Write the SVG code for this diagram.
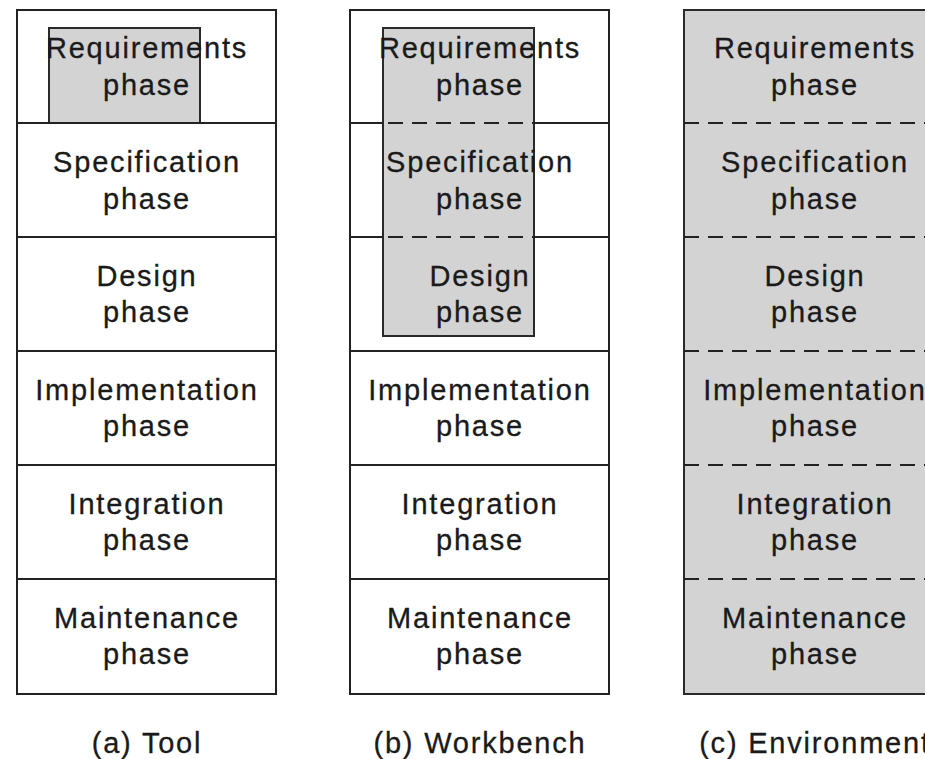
<svg xmlns="http://www.w3.org/2000/svg" width="925" height="759" viewBox="0 0 925 759">
  <style>
    .bg { fill: #ffffff; }
    .cell { fill: none; stroke: #222222; stroke-width: 2; }
    .shade { fill: #d3d3d3; stroke: #2a2a2a; stroke-width: 2; }
    .solid { stroke: #222222; stroke-width: 2; fill: none; }
    .dash { stroke: #222222; stroke-width: 2; stroke-dasharray: 15 9; fill: none; }
    text { font-family: "Liberation Sans", Arial, Helvetica, sans-serif; font-size: 29px; letter-spacing: 1.8px; fill: #1a1a1a; stroke: #1a1a1a; stroke-width: 0.3; text-anchor: middle; }
  </style>

  <rect class="bg" x="0" y="0" width="925" height="759"/>

  <!-- (a) Tool: one tool covers part of one phase -->
  <g id="col-tool">
    <rect class="shade" x="49" y="28" width="151" height="95"/>
    <rect class="cell" x="17" y="10" width="259" height="684"/>
    <g class="solid">
      <line x1="17" y1="123" x2="276" y2="123"/>
      <line x1="17" y1="237" x2="276" y2="237"/>
      <line x1="17" y1="351" x2="276" y2="351"/>
      <line x1="17" y1="465" x2="276" y2="465"/>
      <line x1="17" y1="579" x2="276" y2="579"/>
    </g>
    <g id="a-requirements"><text x="147" y="58">Requirements</text><text x="147" y="95">phase</text></g>
    <g id="a-specification"><text x="147" y="172">Specification</text><text x="147" y="209">phase</text></g>
    <g id="a-design"><text x="147" y="286">Design</text><text x="147" y="322">phase</text></g>
    <g id="a-implementation"><text x="147" y="400">Implementation</text><text x="147" y="436">phase</text></g>
    <g id="a-integration"><text x="147" y="514">Integration</text><text x="147" y="550">phase</text></g>
    <g id="a-maintenance"><text x="147" y="628">Maintenance</text><text x="147" y="664">phase</text></g>
    <text id="caption-a" x="147" y="753">(a) Tool</text>
  </g>

  <!-- (b) Workbench: spans the first three phases -->
  <g id="col-workbench">
    <rect class="shade" x="383" y="28" width="151" height="308"/>
    <rect class="cell" x="350" y="10" width="259" height="684"/>
    <g class="solid">
      <line x1="350" y1="123" x2="383" y2="123"/>
      <line x1="534" y1="123" x2="609" y2="123"/>
      <line x1="350" y1="237" x2="383" y2="237"/>
      <line x1="534" y1="237" x2="609" y2="237"/>
      <line x1="350" y1="351" x2="609" y2="351"/>
      <line x1="350" y1="465" x2="609" y2="465"/>
      <line x1="350" y1="579" x2="609" y2="579"/>
    </g>
    <g class="dash">
      <line x1="388" y1="123" x2="534" y2="123"/>
      <line x1="388" y1="237" x2="534" y2="237"/>
    </g>
    <g id="b-requirements"><text x="480" y="58">Requirements</text><text x="480" y="95">phase</text></g>
    <g id="b-specification"><text x="480" y="172">Specification</text><text x="480" y="209">phase</text></g>
    <g id="b-design"><text x="480" y="286">Design</text><text x="480" y="322">phase</text></g>
    <g id="b-implementation"><text x="480" y="400">Implementation</text><text x="480" y="436">phase</text></g>
    <g id="b-integration"><text x="480" y="514">Integration</text><text x="480" y="550">phase</text></g>
    <g id="b-maintenance"><text x="480" y="628">Maintenance</text><text x="480" y="664">phase</text></g>
    <text id="caption-b" x="480" y="753">(b) Workbench</text>
  </g>

  <!-- (c) Environment: covers the whole process -->
  <g id="col-environment">
    <rect class="shade" x="684" y="10" width="259" height="684"/>
    <g class="dash">
      <line x1="684" y1="123" x2="943" y2="123"/>
      <line x1="684" y1="237" x2="943" y2="237"/>
      <line x1="684" y1="351" x2="943" y2="351"/>
      <line x1="684" y1="465" x2="943" y2="465"/>
      <line x1="684" y1="579" x2="943" y2="579"/>
    </g>
    <g id="c-requirements"><text x="815" y="58">Requirements</text><text x="815" y="95">phase</text></g>
    <g id="c-specification"><text x="815" y="172">Specification</text><text x="815" y="209">phase</text></g>
    <g id="c-design"><text x="815" y="286">Design</text><text x="815" y="322">phase</text></g>
    <g id="c-implementation"><text x="815" y="400">Implementation</text><text x="815" y="436">phase</text></g>
    <g id="c-integration"><text x="815" y="514">Integration</text><text x="815" y="550">phase</text></g>
    <g id="c-maintenance"><text x="815" y="628">Maintenance</text><text x="815" y="664">phase</text></g>
    <text id="caption-c" x="815" y="753">(c) Environment</text>
  </g>
</svg>
